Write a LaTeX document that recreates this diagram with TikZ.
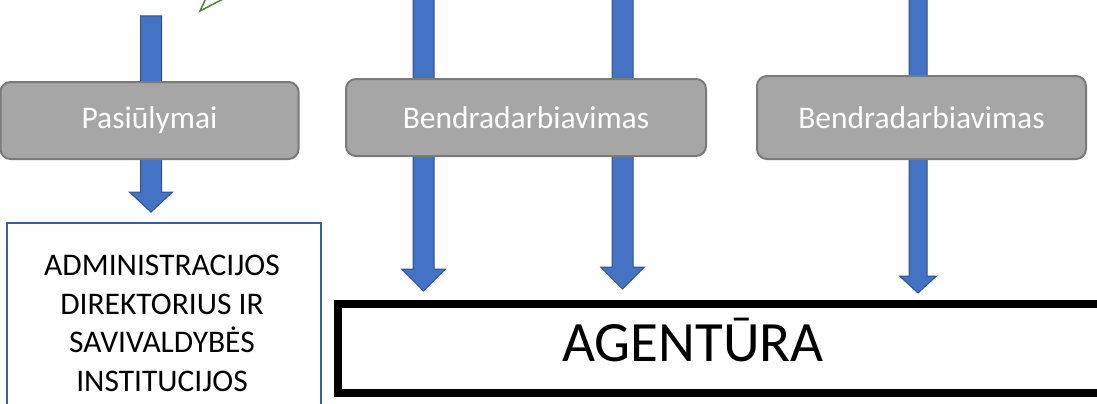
\documentclass[tikz,border=0pt]{standalone}
\usepackage{fontspec}
\setmainfont{Carlito}
\usetikzlibrary{calc}
\definecolor{arrfill}{HTML}{4472C4}
\definecolor{arrline}{HTML}{2F528F}
\definecolor{boxfill}{HTML}{A6A6A6}
\definecolor{boxline}{HTML}{7A7A7A}
\definecolor{admline}{HTML}{3A5FA0}
\definecolor{grn}{HTML}{548235}
\tikzset{
  barrow/.style={fill=arrfill, draw=arrline, line width=1pt, line join=miter},
  graybox/.style={rectangle, rounded corners=10pt, fill=boxfill, draw=boxline, line width=2pt,
    text=white, font=\fontsize{31.5}{38}\selectfont, inner sep=0pt},
  admbox/.style={rectangle, draw=admline, line width=1.8pt, fill=white, inner sep=0pt},
  agbox/.style={rectangle, draw=black, line width=8pt, fill=white, inner sep=0pt},
}
\newcommand{\blockarr}[5]{%
  \draw[barrow] let \p1=(#1), \p2=(#2) in
   (\x2-#3pt,\y1) -- (\x2+#3pt,\y1) -- (\x2+#3pt,\y2+#5pt) -- (\x2+#4pt,\y2+#5pt)
   -- (\p2) -- (\x2-#4pt,\y2+#5pt) -- (\x2-#3pt,\y2+#5pt) -- cycle;}
\begin{document}
\begin{tikzpicture}[x=1pt,y=-1pt]
\useasboundingbox (0,0) rectangle (1097,404);
% target boxes
\node[admbox, minimum width=314pt, minimum height=197pt] (adm) at (164,321.5) {};
\node[anchor=north, inner sep=0pt, align=center, font=\fontsize{31.5}{38.5}\selectfont] (admtext) at (162,255)
  {ADMINISTRACIJOS\\DIREKTORIUS IR\\SAVIVALDYBĖS\\INSTITUCIJOS};
\node[agbox, minimum width=772pt, minimum height=89pt] (ag) at (724,348.5) {};
\node[anchor=base, inner sep=0pt, font=\fontsize{57}{60}\selectfont] (agtext) at (693,361) {AGENTŪRA};
% arrow ends
\coordinate (a1top) at (151,16);
\coordinate (a1tip) at ($(a1top |- adm.north)+(0,-10)$);
\coordinate (a2top) at (423.5,-3);
\coordinate (a2tip) at ($(a2top |- ag.north)+(0,-9)$);
\coordinate (a3top) at (622.5,-3);
\coordinate (a3tip) at ($(a3top |- ag.north)+(0,-11)$);
\coordinate (a4top) at (918,-3);
\coordinate (a4tip) at ($(a4top |- ag.north)+(0,-7)$);
\blockarr{a1top}{a1tip}{10.5}{21.5}{20}
\blockarr{a2top}{a2tip}{10.5}{22}{22}
\blockarr{a3top}{a3tip}{10.5}{22}{22}
\blockarr{a4top}{a4tip}{9}{18.5}{17}
% gray boxes
\node[graybox, minimum width=298pt, minimum height=77pt] (pas) at (149.5,120.5) {Pasiūlymai};
\node[graybox, minimum width=360pt, minimum height=77pt] (bend1) at (526,117.5) {Bendradarbiavimas};
\node[graybox, minimum width=329pt, minimum height=83pt] (bend2) at (921.5,117.5) {Bendradarbiavimas};
% green partial shape
\coordinate (gv) at (200,11);
\draw[grn, line width=1.5pt, line join=miter] (206,-2) -- (gv) -- (225,-2);
\end{tikzpicture}
\end{document}
